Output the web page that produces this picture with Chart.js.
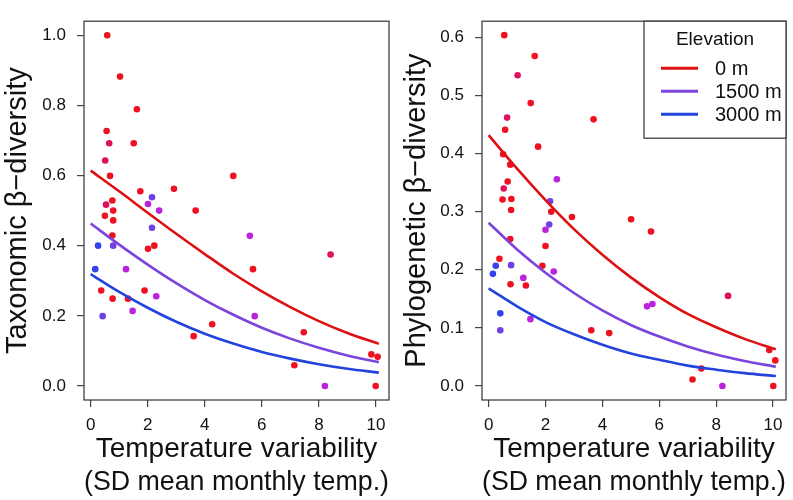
<!DOCTYPE html>
<html>
<head>
<meta charset="utf-8">
<script src="https://cdn.jsdelivr.net/npm/chart.js@4/dist/chart.umd.min.js"></script>
<style>
  html, body { margin: 0; padding: 0; background: #fff; }
  body { width: 793px; height: 500px; position: relative; overflow: hidden; }
  .panel { position: absolute; top: 0; height: 500px; }
  #pl { left: 0; width: 396px; }
  #pr { left: 396px; width: 397px; }
</style>
</head>
<body>
<div class="panel" id="pl"><canvas id="cl" width="396" height="500"></canvas></div>
<div class="panel" id="pr"><canvas id="cr" width="397" height="500"></canvas></div>
<script>
// ---------- data ----------
const xTitle = ['Temperature variability', '(SD mean monthly temp.)'];
const leftYTitle = 'Taxonomic \u03B2\u2212diversity';
const rightYTitle = 'Phylogenetic \u03B2\u2212diversity';
const legendTitle = 'Elevation';
const legendLabels = ['0 m', '1500 m', '3000 m'];

// Taxonomic beta-diversity sites (x = temperature variability)
const leftX = [0.58,1.03,1.62,0.56,0.65,1.51,0.51,0.68,5.00,1.74,2.92,2.15,2.01,2.40,3.68,0.76,0.54,0.79,0.50,0.79,2.15,0.76,0.26,0.79,2.01,2.23,0.16,1.24,0.37,1.89,0.77,1.31,2.30,1.47,0.42,3.61,4.26,5.58,5.69,5.75,8.41,7.47,7.14,9.84,10.06,8.21,9.99];
const leftY = [1.000,0.882,0.789,0.727,0.692,0.692,0.643,0.599,0.599,0.555,0.562,0.538,0.519,0.500,0.500,0.529,0.517,0.500,0.485,0.472,0.451,0.429,0.400,0.400,0.391,0.400,0.333,0.333,0.272,0.272,0.249,0.249,0.256,0.214,0.199,0.142,0.176,0.428,0.333,0.199,0.375,0.153,0.059,0.090,0.083,0.000,0.000];
// elevation class of each site: r = low ... b = high
const leftGroup = ['r','r','r','r','c','r','c','r','r','r','r','p','m','m','r','r','c','r','r','r','p','r','b','p','r','r','b','m','r','r','r','r','m','m','p','r','r','m','r','m','c','r','r','r','r','m','r'];

// Phylogenetic beta-diversity sites
const rightX = [0.55,1.62,1.02,1.48,0.65,3.69,0.58,1.74,0.51,0.76,2.40,0.67,0.53,0.49,0.80,2.16,0.79,2.20,2.93,2.13,0.76,2.00,2.00,0.38,0.25,0.79,1.89,0.15,2.29,1.22,0.77,1.31,0.41,0.41,1.47,3.61,4.24,5.01,5.71,8.42,5.57,5.76,9.87,10.08,7.48,7.17,8.22,10.01];
const rightY = [0.604,0.568,0.535,0.487,0.462,0.459,0.441,0.412,0.399,0.381,0.356,0.352,0.340,0.321,0.322,0.318,0.303,0.300,0.291,0.278,0.253,0.269,0.241,0.219,0.207,0.208,0.207,0.193,0.197,0.186,0.175,0.173,0.125,0.096,0.115,0.096,0.091,0.287,0.266,0.155,0.137,0.141,0.062,0.044,0.030,0.011,0.000,0.000];
const rightGroup = ['r','r','c','r','c','r','r','r','r','r','m','r','c','r','r','p','r','r','r','p','r','m','r','r','b','p','r','b','m','m','r','r','b','p','m','r','r','r','r','c','m','m','r','r','r','r','m','r'];

// fitted curves at these x positions
const curveX = [0,1,2,3,4,5,6,7,8,9,10.1];
const leftFit0    = [0.614,0.555,0.494,0.434,0.376,0.320,0.270,0.225,0.185,0.151,0.120];
const leftFit1500 = [0.463,0.403,0.346,0.293,0.245,0.203,0.166,0.135,0.109,0.087,0.068];
const leftFit3000 = [0.319,0.268,0.223,0.183,0.149,0.121,0.097,0.078,0.062,0.049,0.038];
const rightFit0    = [0.432,0.374,0.320,0.270,0.226,0.187,0.153,0.124,0.101,0.081,0.063];
const rightFit1500 = [0.281,0.235,0.195,0.160,0.130,0.105,0.085,0.068,0.054,0.043,0.033];
const rightFit3000 = [0.168,0.137,0.110,0.089,0.071,0.056,0.045,0.035,0.028,0.022,0.017];

// ---------- styling ----------
const FONT = "'Liberation Sans', Arial, Helvetica, sans-serif";
const pointPalette = { r: '#ee1122', c: '#dd1160', m: '#bb22dd', p: '#7040e6', b: '#3344ee' };
const lineColors = ['#dd1111', '#7a44dd', '#2244dd'];

function pts(xs, ys) { return xs.map((x, i) => ({ x: x, y: ys[i] })); }

const boxPlugin = {
  id: 'box',
  afterDatasetsDraw(chart) {
    const a = chart.chartArea, ctx = chart.ctx;
    ctx.save();
    ctx.strokeStyle = '#333';
    ctx.lineWidth = 1.2;
    ctx.strokeRect(a.left, a.top, a.right - a.left, a.bottom - a.top);
    ctx.restore();
  }
};

const legendPlugin = {
  id: 'rlegend',
  afterDraw(chart) {
    const a = chart.chartArea, ctx = chart.ctx;
    const w = 142, h = 117;
    const L = a.right - w, T = a.top;
    ctx.save();
    ctx.fillStyle = '#fff';
    ctx.fillRect(L, T, w, h);
    ctx.strokeStyle = '#333';
    ctx.lineWidth = 1.2;
    ctx.strokeRect(L, T, w, h);
    ctx.fillStyle = '#111';
    ctx.font = '19px ' + FONT;
    ctx.textAlign = 'center';
    ctx.textBaseline = 'middle';
    ctx.fillText(legendTitle, L + w / 2, T + 19);
    const rows = [47, 70, 93];
    ctx.textAlign = 'left';
    ctx.font = '20px ' + FONT;
    legendLabels.forEach((lab, i) => {
      ctx.strokeStyle = lineColors[i];
      ctx.lineWidth = 3;
      ctx.beginPath();
      ctx.moveTo(L + 17, T + rows[i]);
      ctx.lineTo(L + 54, T + rows[i]);
      ctx.stroke();
      ctx.fillText(lab, L + 71, T + rows[i] + 1);
    });
    ctx.restore();
  }
};

function makeChart(canvasId, xs, ys, groups, fits, yMin, yMax, yStep, yTitle, yWidth, yTitlePad, withLegend) {
  const lineSets = fits.map((f, i) => ({
    type: 'line',
    data: pts(curveX, f),
    borderColor: lineColors[i],
    borderWidth: 2.6,
    pointRadius: 0,
    fill: false,
    cubicInterpolationMode: 'monotone',
    order: 0
  }));
  const pointSet = {
    type: 'scatter',
    data: pts(xs, ys),
    backgroundColor: groups.map(g => pointPalette[g]),
    borderWidth: 0,
    pointRadius: 3.3,
    order: 1
  };
  return new Chart(document.getElementById(canvasId), {
    type: 'scatter',
    data: { datasets: [...lineSets, pointSet] },
    plugins: withLegend ? [boxPlugin, legendPlugin] : [boxPlugin],
    options: {
      responsive: false,
      animation: false,
      devicePixelRatio: 1,
      events: [],
      layout: { padding: { top: 2, right: 7, left: 0, bottom: 0 } },
      plugins: { legend: { display: false }, tooltip: { enabled: false } },
      scales: {
        x: {
          type: 'linear',
          min: -0.233, max: 10.457,
          afterFit(s) { s.height = 100; },
          border: { display: false },
          grid: { drawOnChartArea: false, drawTicks: true, tickLength: 7, color: '#444', lineWidth: 1.2 },
          ticks: { stepSize: 2, includeBounds: false, padding: 8, color: '#111', font: { family: FONT, size: 17 } },
          title: {
            display: true, text: xTitle, color: '#111',
            font: { family: FONT, size: 28, lineHeight: 1.18 },
            padding: { top: 0, bottom: 1.2 }
          }
        },
        y: {
          type: 'linear',
          min: yMin, max: yMax,
          afterFit(s) { s.width = yWidth; },
          border: { display: false },
          grid: { drawOnChartArea: false, drawTicks: true, tickLength: 7, color: '#444', lineWidth: 1.2 },
          ticks: { stepSize: yStep, includeBounds: false, padding: 11, color: '#111',
                   font: { family: FONT, size: 17 }, callback: v => Number(v).toFixed(1) },
          title: {
            display: true, text: yTitle, color: '#111',
            font: { family: FONT, size: 29, lineHeight: 1.2 },
            padding: { top: yTitlePad, bottom: 0 }
          }
        }
      }
    }
  });
}

makeChart('cl', leftX, leftY, leftGroup, [leftFit0, leftFit1500, leftFit3000],
          -0.04, 1.04, 0.2, leftYTitle, 84, 0.6, false);
makeChart('cr', rightX, rightY, rightGroup, [rightFit0, rightFit1500, rightFit3000],
          -0.0242, 0.628, 0.1, rightYTitle, 86, 3.5, true);
</script>
</body>
</html>
